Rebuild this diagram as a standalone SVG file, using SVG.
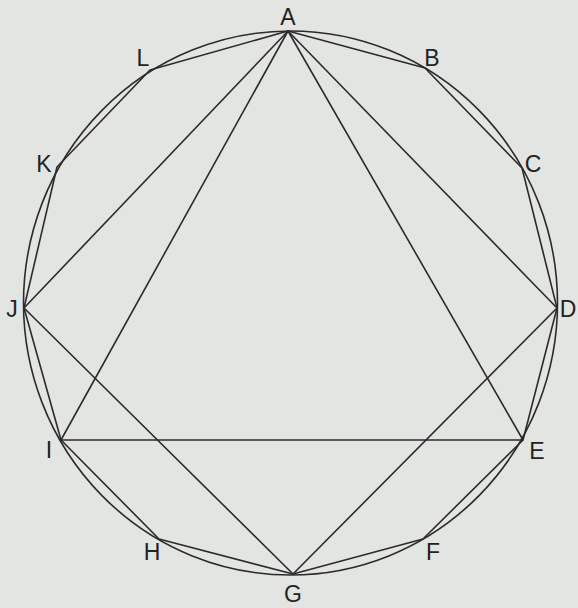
<svg xmlns="http://www.w3.org/2000/svg" width="578" height="608" viewBox="0 0 578 608">
<style>
.ln{fill:none;stroke:#2b2b2b;stroke-width:1.6;stroke-linejoin:round}
.lb{font-family:"Liberation Sans",Arial,sans-serif;font-size:23px;fill:#222;text-anchor:middle}
</style>
<rect width="578" height="608" fill="#e3e5e2"/>
<g id="connectors">
<ellipse class="ln" cx="290.5" cy="303" rx="267" ry="272"/>
<polygon class="ln" points="288,31 425,68 522,168 557,308 523,440 423,539 293,574 159,539 61,440 24,308 57,167 150,70"/>
<polygon class="ln" points="288,31 557,308 293,574 24,308"/>
<polygon class="ln" points="288,31 523,440 61,440"/>
</g>
<g id="A"><text class="lb" x="288" y="25">A</text></g>
<g id="B"><text class="lb" x="432" y="66">B</text></g>
<g id="C"><text class="lb" x="533" y="172">C</text></g>
<g id="D"><text class="lb" x="568" y="317">D</text></g>
<g id="E"><text class="lb" x="537" y="459">E</text></g>
<g id="F"><text class="lb" x="433" y="560">F</text></g>
<g id="G"><text class="lb" x="293" y="602">G</text></g>
<g id="H"><text class="lb" x="152" y="560">H</text></g>
<g id="I"><text class="lb" x="49" y="458">I</text></g>
<g id="J"><text class="lb" x="12" y="317">J</text></g>
<g id="K"><text class="lb" x="44" y="172">K</text></g>
<g id="L"><text class="lb" x="143" y="66">L</text></g>
</svg>
